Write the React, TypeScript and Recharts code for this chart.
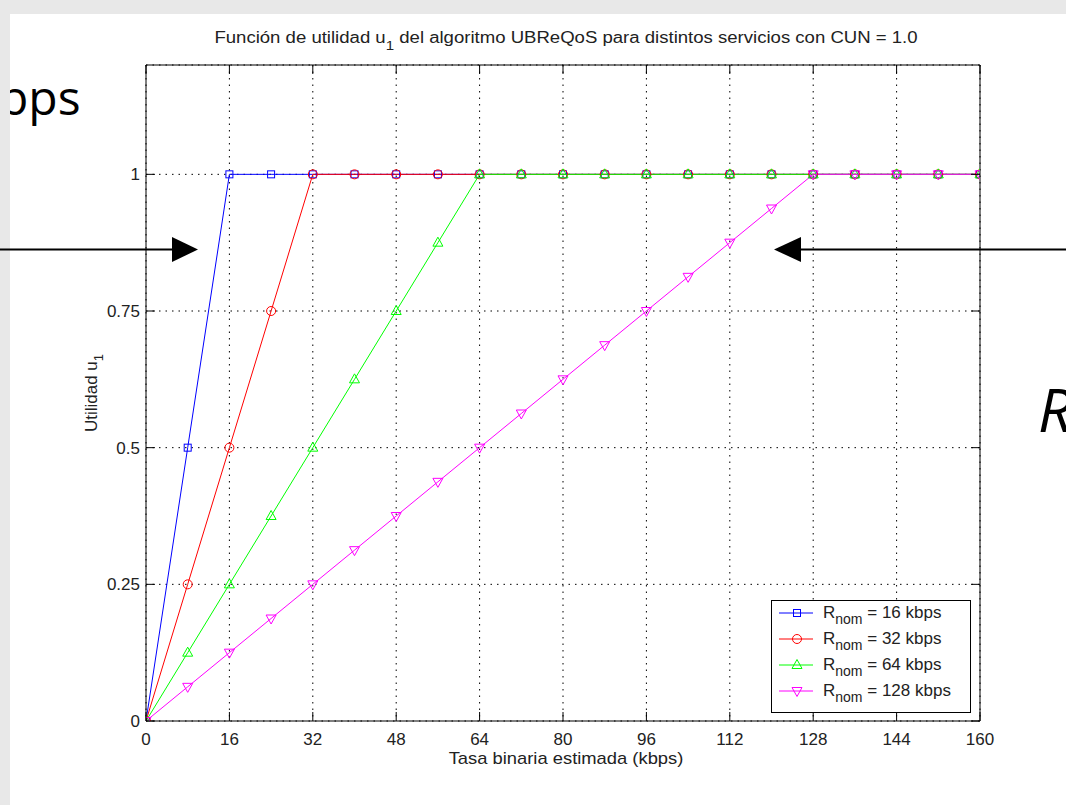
import React from 'react';
import { LineChart, Line, XAxis, YAxis, CartesianGrid, Legend } from 'recharts';

// ---- data ----
const rates = [0, 8, 16, 24, 32, 40, 48, 56, 64, 72, 80, 88, 96, 104, 112, 120, 128, 136, 144, 152, 160];
const utilR16 = [0, 0.5, 1, 1, 1, 1, 1, 1, 1, 1, 1, 1, 1, 1, 1, 1, 1, 1, 1, 1, 1];
const utilR32 = [0, 0.25, 0.5, 0.75, 1, 1, 1, 1, 1, 1, 1, 1, 1, 1, 1, 1, 1, 1, 1, 1, 1];
const utilR64 = [0, 0.125, 0.25, 0.375, 0.5, 0.625, 0.75, 0.875, 1, 1, 1, 1, 1, 1, 1, 1, 1, 1, 1, 1, 1];
const utilR128 = [0, 0.0625, 0.125, 0.1875, 0.25, 0.3125, 0.375, 0.4375, 0.5, 0.5625, 0.625, 0.6875, 0.75, 0.8125, 0.875, 0.9375, 1, 1, 1, 1, 1];
const xTicks = [0, 16, 32, 48, 64, 80, 96, 112, 128, 144, 160];
const yTicks = [0, 0.25, 0.5, 0.75, 1];
const nominalRates = ['16', '32', '64', '128'];
const seriesKeys = ['r16', 'r32', 'r64', 'r128'];
const seriesColors = ['#0000ff', '#ff0000', '#00ff00', '#ff00ff'];
const seriesShapes = ['square', 'circle', 'triUp', 'triDown'];

const data = rates.map((r, i) => ({
  rate: r,
  r16: utilR16[i],
  r32: utilR32[i],
  r64: utilR64[i],
  r128: utilR128[i],
}));

const FONT = '"Liberation Sans", Arial, Helvetica, sans-serif';
const TXT = '#222';

function marker(shape: string, cx: number, cy: number, color: string, key?: any) {
  if (shape === 'square')
    return <rect key={key} x={cx - 3.5} y={cy - 3.5} width={7} height={7} fill="none" stroke={color} strokeWidth={1} />;
  if (shape === 'circle')
    return <circle key={key} cx={cx} cy={cy} r={4.5} fill="none" stroke={color} strokeWidth={1} />;
  if (shape === 'triUp')
    return <polygon key={key} points={`${cx},${cy - 5.5} ${cx - 5},${cy + 3.5} ${cx + 5},${cy + 3.5}`} fill="none" stroke={color} strokeWidth={1} />;
  return <polygon key={key} points={`${cx - 5},${cy - 3.5} ${cx + 5},${cy - 3.5} ${cx},${cy + 5.5}`} fill="none" stroke={color} strokeWidth={1} />;
}

const makeDot = (shape: string, color: string) => (props: any) => {
  const { cx, cy, index } = props;
  if (cx == null || cy == null) return <g key={`n-${index}`} />;
  return marker(shape, cx, cy, color, `d-${shape}-${index}`);
};

const BottomTick = (props: any) => {
  const { x, y, payload } = props;
  return (
    <g>
      <line x1={x} x2={x} y1={y} y2={y - 9} stroke="#000" strokeWidth={1} />
      <text x={x} y={y + 24} textAnchor="middle" fontSize={17} fontFamily={FONT} fill={TXT}>{payload.value}</text>
    </g>
  );
};
const TopTick = (props: any) => {
  const { x, y } = props;
  return <line x1={x} x2={x} y1={y} y2={y + 9} stroke="#000" strokeWidth={1} />;
};
const LeftTick = (props: any) => {
  const { x, y, payload } = props;
  return (
    <g>
      <line x1={x} x2={x + 9} y1={y} y2={y} stroke="#000" strokeWidth={1} />
      <text x={x - 6} y={y + 6} textAnchor="end" fontSize={17} fontFamily={FONT} fill={TXT}>{payload.value}</text>
    </g>
  );
};
const RightTick = (props: any) => {
  const { x, y } = props;
  return <line x1={x} x2={x - 9} y1={y} y2={y} stroke="#000" strokeWidth={1} />;
};

const LegendBox = () => (
  <div style={{ width: 200, height: 113, boxSizing: 'border-box', border: '1px solid #000', background: '#fff', fontFamily: FONT, fontSize: 17, color: TXT }}>
    {nominalRates.map((lab, i) => (
      <div key={i} style={{ height: 26, position: 'relative', top: -1 }}>
        <svg width={40} height={26} style={{ position: 'absolute', left: 7, top: 0 }}>
          <line x1={0} x2={34} y1={13} y2={13} stroke={seriesColors[i]} strokeWidth={1} />
          {marker(seriesShapes[i], 18, 13, seriesColors[i])}
        </svg>
        <span style={{ position: 'absolute', left: 51, top: 0, lineHeight: '26px', whiteSpace: 'nowrap' }}>
          R<span style={{ fontSize: 14, position: 'relative', top: 6 }}>nom</span> = {lab} kbps
        </span>
      </div>
    ))}
  </div>
);

export default function App() {
  return (
    <div style={{ position: 'absolute', left: 0, top: 0, width: 1066, height: 805, background: '#fff', overflow: 'hidden' }}>
      <LineChart width={1066} height={805} data={data} margin={{ top: 55, right: 76, bottom: 54, left: 86 }}>
        <CartesianGrid stroke="#000" strokeDasharray="1.5 5" strokeWidth={1} />
        <XAxis dataKey="rate" type="number" domain={[0, 160]} ticks={xTicks} height={30}
          axisLine={{ stroke: '#000', strokeWidth: 1 }} tickLine={false} tickSize={0} tickMargin={0}
          tick={<BottomTick />} interval={0} allowDataOverflow />
        <XAxis xAxisId="top" orientation="top" dataKey="rate" type="number" domain={[0, 160]} ticks={xTicks} height={10}
          axisLine={{ stroke: '#000', strokeWidth: 1 }} tickLine={false} tickSize={0} tickMargin={0}
          tick={<TopTick />} interval={0} allowDataOverflow />
        <YAxis type="number" domain={[0, 1.2]} ticks={yTicks} width={60}
          axisLine={{ stroke: '#000', strokeWidth: 1 }} tickLine={false} tickSize={0} tickMargin={0}
          tick={<LeftTick />} interval={0} allowDataOverflow />
        <YAxis yAxisId="right" orientation="right" type="number" domain={[0, 1.2]} ticks={yTicks} width={10}
          axisLine={{ stroke: '#000', strokeWidth: 1 }} tickLine={false} tickSize={0} tickMargin={0}
          tick={<RightTick />} interval={0} allowDataOverflow />
        {seriesKeys.map((k, i) => (
          <Line key={k} type="linear" dataKey={k} stroke={seriesColors[i]} strokeWidth={1}
            dot={makeDot(seriesShapes[i], seriesColors[i])} activeDot={false} isAnimationActive={false} />
        ))}
        <Legend layout="vertical" align="center" verticalAlign="middle" content={<LegendBox />}
          wrapperStyle={{ position: 'absolute', left: 771, top: 600, width: 200, height: 113, margin: 0, padding: 0 }} />
      </LineChart>

      {/* title and axis labels */}
      <div style={{ position: 'absolute', left: 566, top: 38, transform: 'translate(-50%, -50%) scaleX(1.16)', fontFamily: FONT, fontSize: 16, lineHeight: '16px', color: TXT, whiteSpace: 'nowrap' }}>
        Función de utilidad u<span style={{ fontSize: 13, position: 'relative', top: 7 }}>1</span> del algoritmo UBReQoS para distintos servicios con CUN = 1.0
      </div>
      <div style={{ position: 'absolute', left: 566, top: 758, transform: 'translate(-50%, -50%) scaleX(1.08)', fontFamily: FONT, fontSize: 17, lineHeight: '17px', color: TXT, whiteSpace: 'nowrap' }}>
        Tasa binaria estimada (kbps)
      </div>
      <div style={{ position: 'absolute', left: 92, top: 393, transform: 'translate(-50%, -50%) rotate(-90deg)', fontFamily: FONT, fontSize: 17, lineHeight: '17px', color: TXT, whiteSpace: 'nowrap' }}>
        Utilidad u<span style={{ fontSize: 13, position: 'relative', top: 6 }}>1</span>
      </div>

      {/* slide decorations around the figure */}
      <svg width={1066} height={805} style={{ position: 'absolute', left: 0, top: 0, pointerEvents: 'none' }}>
        <text x={-1} y={115} fontFamily='"Open Sans", sans-serif' fontSize={48} fill="#000">bps</text>
        <text x={1038} y={432} fontFamily='"Open Sans", sans-serif' fontSize={60} fontStyle="italic" fill="#000">R</text>
        <rect x={0} y={0} width={1066} height={14} fill="#e8e8e8" />
        <rect x={0} y={0} width={10} height={805} fill="#e8e8e8" />
        <line x1={0} x2={176} y1={249.5} y2={249.5} stroke="#000" strokeWidth={2} />
        <polygon points="172,237 172,262 198,249.5" fill="#000" />
        <line x1={798} x2={1066} y1={249.5} y2={249.5} stroke="#000" strokeWidth={2} />
        <polygon points="801,237 801,262 774,249.5" fill="#000" />
      </svg>
    </div>
  );
}
